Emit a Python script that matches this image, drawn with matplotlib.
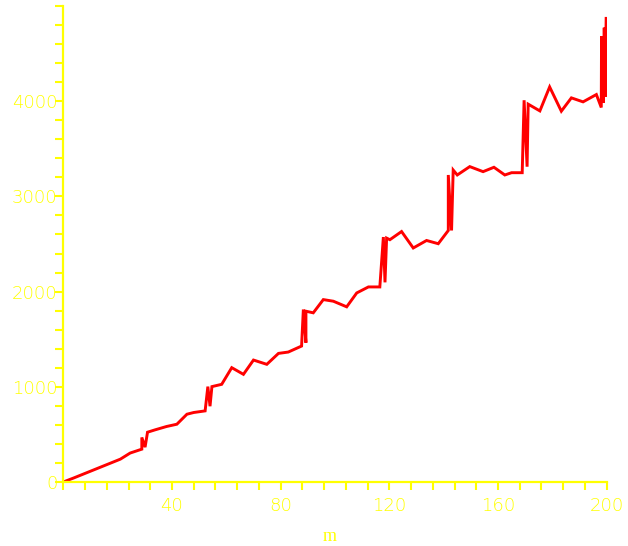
import matplotlib
matplotlib.use("Agg")
import matplotlib.pyplot as plt
from matplotlib.ticker import MultipleLocator

# Data (m, value)
m_vals = [0, 3.8, 21.0, 24.6, 28.9, 28.9, 30.1, 31.0, 33.8, 38.0, 41.8, 45.5,
          48.0, 52.2, 53.2, 54.0, 54.7, 58.3, 62.0, 66.3, 70.0, 74.9, 79.2,
          82.8, 87.7, 88.35, 89.3, 89.3, 92.0, 95.7, 99.4, 104.3, 108.0, 112.3,
          116.5, 117.8, 118.4, 119.0, 120.2, 124.5, 128.8, 133.7, 138.0, 141.7,
          141.7, 142.9, 143.5, 145.0, 149.6, 154.5, 158.5, 162.5, 165.0, 168.9,
          169.6, 170.7, 171.1, 175.4, 179.0, 183.3, 187.0, 191.3, 196.2, 198.0,
          198.1, 198.8, 199.1, 199.4, 199.8, 200.0]
f_vals = [0, 42, 240, 304, 345, 468, 366, 523, 548, 583, 607, 712,
          730, 747, 1002, 796, 1002, 1026, 1201, 1131, 1281, 1236, 1351,
          1365, 1428, 1812, 1463, 1794, 1777, 1916, 1899, 1840, 1986, 2049,
          2049, 2573, 2097, 2562, 2545, 2631, 2458, 2537, 2503, 2642,
          3225, 2642, 3277, 3225, 3313, 3260, 3306, 3225, 3249, 3249,
          4010, 3312, 3969, 3898, 4150, 3895, 4035, 3993, 4070, 3934,
          4681, 3982, 4772, 4045, 4870, 4870]

x_major = [40, 80, 120, 160, 200]
y_major = [0, 1000, 2000, 3000, 4000]

YELLOW = "#FFFF00"
RED = "#FF0000"

fig = plt.figure(figsize=(6.28, 5.46), dpi=100)
ax = fig.add_axes([63.3 / 628, 64 / 546, 543.4 / 628, 476 / 546])

ax.plot(m_vals, f_vals, color=RED, lw=2.1, solid_joinstyle="miter")

ax.set_xlim(0, 200)
ax.set_ylim(0, 5000)

for s in ("top", "right"):
    ax.spines[s].set_visible(False)
for s in ("left", "bottom"):
    ax.spines[s].set_color(YELLOW)
    ax.spines[s].set_linewidth(1.6)

ax.set_xticks(x_major)
ax.set_xticklabels([str(v) for v in x_major])
ax.set_yticks(y_major)
ax.set_yticklabels([str(v) for v in y_major])
ax.xaxis.set_minor_locator(MultipleLocator(8))
ax.yaxis.set_minor_locator(MultipleLocator(200))

ax.tick_params(axis="both", which="both", direction="out", length=5.8,
               width=1.5, color=YELLOW, labelcolor=YELLOW, labelsize=13)
ax.tick_params(axis="x", which="major", pad=5.3)
ax.tick_params(axis="y", which="major", pad=-1.5)
for lab in ax.get_xticklabels() + ax.get_yticklabels():
    lab.set_fontweight("light")

ax.set_xlabel("m", family="Liberation Serif", fontsize=13, color=YELLOW)
ax.xaxis.label.set_va("center")
ax.xaxis.set_label_coords(0.49, -0.115)

fig.savefig("out.png", dpi=100, facecolor="white")
